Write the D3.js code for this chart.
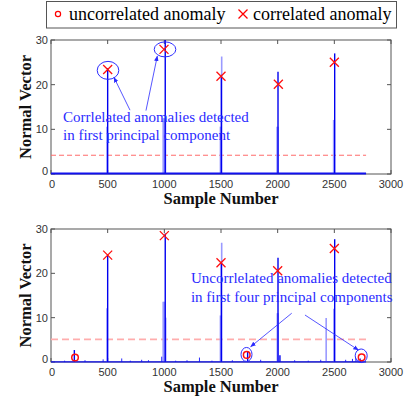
<!DOCTYPE html>
<html>
<head>
<meta charset="utf-8">
<script src="https://cdn.jsdelivr.net/npm/d3@7"></script>
<style>
  html, body { margin: 0; padding: 0; background: #fff; }
  svg { display: block; }
</style>
</head>
<body>
<svg id="chart" width="408" height="400"></svg>
<script>
// ---- axes ticks ----
const xTicks = [0, 500, 1000, 1500, 2000, 2500, 3000];
const yTicks = [0, 10, 20, 30];

// ---- first principal component (top panel) ----
const pc1BaseSample = [0, 2780];
const pc1BaseValue = [0.1, 0.1];
const pc1DarkSample = [500, 1008, 1503, 2003, 2503];
const pc1DarkValue = [23.7, 30, 22.2, 22.9, 27.0];
const pc1LightSample = [494, 990, 1000, 1010, 1495, 1506, 1995, 2003, 2494, 2500];
const pc1LightValue = [10.6, 12.5, 12.5, 12.0, 10.6, 26.3, 10.6, 10.6, 12.1, 12.1];
const pc1Threshold = 4.2;
const pc1CorrSample = [500, 997, 1500, 2006, 2500];
const pc1CorrValue = [23.4, 27.9, 21.9, 20.1, 25.0];

// ---- first four principal components (bottom panel) ----
const pc4BaseSample = [0, 2780];
const pc4BaseValue = [0.05, 0.05];
const pc4DarkSample = [206, 500, 1008, 1503, 1735, 2003, 2020, 2503];
const pc4DarkValue = [2.7, 24.1, 29.0, 22.4, 2.3, 23.5, 1.5, 27.7];
const pc4LightSample = [494, 990, 1000, 1012, 1495, 1506, 1997, 2003, 2428, 2496];
const pc4LightValue = [12.1, 13.6, 13.6, 10.0, 10.5, 26.9, 11.0, 11.0, 9.9, 12.0];
const pc4NoiseSample = [120, 300, 460, 624, 700, 800, 860, 977, 1100, 1200, 1310, 1420, 1600, 1850, 2150, 2270, 2380, 2600, 2660, 2690, 2710, 2730];
const pc4NoiseValue = [0.3, 0.4, 0.6, 0.8, 0.3, 0.5, 0.4, 1.2, 0.3, 0.4, 1.0, 0.3, 0.4, 0.5, 0.4, 0.3, 0.5, 0.5, 0.7, 0.9, 0.6, 0.8];
const pc4Threshold = 5.1;
const pc4CorrSample = [500, 1000, 1500, 2000, 2500];
const pc4CorrValue = [24.1, 28.5, 22.4, 20.6, 25.6];
const pc4UncorrSample = [212, 1727, 2741];
const pc4UncorrValue = [1.0, 1.6, 1.05];

const svg = d3.select("#chart");
const serif = "'Liberation Serif', 'Times New Roman', serif";
const sans = "'Liberation Sans', Arial, sans-serif";
const axisColor = "#555";
const annColor = "#2b2bff";

// arrowhead marker
svg.append("defs").append("marker")
  .attr("id", "arrow").attr("viewBox", "0 0 10 10")
  .attr("refX", 9).attr("refY", 5)
  .attr("markerWidth", 7).attr("markerHeight", 7)
  .attr("orient", "auto-start-reverse")
  .append("path").attr("d", "M0,1 L10,5 L0,9 Z").attr("fill", annColor);

// ---- legend ----
const legend = svg.append("g");
legend.append("rect").attr("x", 46.5).attr("y", 1.5).attr("width", 350).attr("height", 26.5)
  .attr("fill", "#fff").attr("stroke", axisColor).attr("stroke-width", 1);
legend.append("circle").attr("cx", 58).attr("cy", 14).attr("r", 2.6)
  .attr("fill", "none").attr("stroke", "#ff0000").attr("stroke-width", 1.2);
legend.append("text").attr("x", 69).attr("y", 20).text("uncorrelated anomaly")
  .attr("font-family", serif).attr("font-size", 18).attr("fill", "#000");
legend.append("path").attr("d", "M238.5,9.5 L247.5,18.5 M247.5,9.5 L238.5,18.5")
  .attr("stroke", "#ff0000").attr("stroke-width", 1.3);
legend.append("text").attr("x", 253).attr("y", 20).text("correlated anomaly")
  .attr("font-family", serif).attr("font-size", 18).attr("fill", "#000");

function drawPanel(cfg) {
  const x = d3.scaleLinear().domain([0, 3000]).range([51, 391]);
  const y = d3.scaleLinear().domain([0, 30]).range([cfg.bottom, cfg.top]);
  const g = svg.append("g");

  // axis box
  g.append("rect").attr("x", x(0)).attr("y", y(30)).attr("width", x(3000) - x(0)).attr("height", y(0) - y(30))
    .attr("fill", "none").attr("stroke", axisColor).attr("stroke-width", 1);

  // ticks (inside, mirrored on both sides)
  const tl = 4;
  xTicks.forEach(t => {
    g.append("line").attr("x1", x(t)).attr("x2", x(t)).attr("y1", y(0)).attr("y2", y(0) - tl).attr("stroke", axisColor);
    g.append("line").attr("x1", x(t)).attr("x2", x(t)).attr("y1", y(30)).attr("y2", y(30) + tl).attr("stroke", axisColor);
    g.append("text").attr("x", x(t) + (t === 0 ? 1 : 0)).attr("y", y(0) + 14).attr("text-anchor", "middle")
      .attr("font-family", sans).attr("font-size", 11).attr("fill", "#333").text(t);
  });
  yTicks.forEach(t => {
    g.append("line").attr("x1", x(0)).attr("x2", x(0) + tl).attr("y1", y(t)).attr("y2", y(t)).attr("stroke", axisColor);
    g.append("line").attr("x1", x(3000)).attr("x2", x(3000) - tl).attr("y1", y(t)).attr("y2", y(t)).attr("stroke", axisColor);
    g.append("text").attr("x", 48).attr("y", y(t) + (t === 0 ? 1 : 4)).attr("text-anchor", "end")
      .attr("font-family", sans).attr("font-size", 11).attr("fill", "#333").text(t);
  });

  // axis titles
  g.append("text").attr("x", (x(0) + x(3000)) / 2).attr("y", y(0) + 30).attr("text-anchor", "middle")
    .attr("font-family", serif).attr("font-weight", "bold").attr("font-size", 16.5).attr("fill", "#111")
    .text("Sample Number");
  g.append("text").attr("transform", `translate(31,${(y(0) + y(30)) / 2}) rotate(-90)`).attr("text-anchor", "middle")
    .attr("font-family", serif).attr("font-weight", "bold").attr("font-size", 16.5).attr("fill", "#111")
    .text("Normal Vector");

  const plot = g.append("g");

  // threshold
  plot.append("line").attr("x1", x(0)).attr("x2", x(2780)).attr("y1", y(cfg.threshold)).attr("y2", y(cfg.threshold))
    .attr("stroke", cfg.thrColor).attr("stroke-width", cfg.thrWidth).attr("stroke-dasharray", cfg.thrDash);

  // pale trace
  cfg.lightS.forEach((s, i) => {
    plot.append("line").attr("x1", x(s)).attr("x2", x(s)).attr("y1", y(0)).attr("y2", y(cfg.lightV[i]))
      .attr("stroke", "#9a9aff").attr("stroke-width", 1.6);
  });
  // noise
  (cfg.noiseS || []).forEach((s, i) => {
    plot.append("line").attr("x1", x(s)).attr("x2", x(s)).attr("y1", y(0)).attr("y2", y(cfg.noiseV[i]))
      .attr("stroke", "#2a2aff").attr("stroke-width", 1);
  });
  // dark trace spikes
  cfg.darkS.forEach((s, i) => {
    plot.append("line").attr("x1", x(s)).attr("x2", x(s)).attr("y1", y(0)).attr("y2", y(cfg.darkV[i]))
      .attr("stroke", "#0000f0").attr("stroke-width", 1.4);
  });
  // baseline of the trace
  const line = d3.line().x(d => x(d[0])).y(d => y(d[1]));
  plot.append("path").attr("d", line(cfg.baseS.map((s, i) => [s, cfg.baseV[i]])))
    .attr("fill", "none").attr("stroke", "#1010ee").attr("stroke-width", cfg.baseWidth);

  // correlated anomalies (x markers)
  cfg.corrS.forEach((s, i) => {
    const cx = x(s), cy = y(cfg.corrV[i]), h = 4.5;
    plot.append("path").attr("d", `M${cx - h},${cy - h} L${cx + h},${cy + h} M${cx + h},${cy - h} L${cx - h},${cy + h}`)
      .attr("stroke", "#ff1010").attr("stroke-width", 1.3);
  });
  // uncorrelated anomalies (circle markers)
  (cfg.uncS || []).forEach((s, i) => {
    plot.append("circle").attr("cx", x(s)).attr("cy", y(cfg.uncV[i])).attr("r", 3.3)
      .attr("fill", "none").attr("stroke", "#ff1010").attr("stroke-width", 1.5);
  });

  // annotations
  const ann = g.append("g");
  cfg.ellipses.forEach(e => {
    ann.append("ellipse").attr("cx", x(e.s)).attr("cy", y(e.v)).attr("rx", e.rx).attr("ry", e.ry)
      .attr("fill", "none").attr("stroke", annColor).attr("stroke-width", 1);
  });
  cfg.arrows.forEach(a => {
    ann.append("line").attr("x1", x(a[0])).attr("y1", y(a[1])).attr("x2", x(a[2])).attr("y2", y(a[3]))
      .attr("stroke", annColor).attr("stroke-width", 0.8).attr("marker-end", "url(#arrow)");
  });
  cfg.notes.forEach(n => {
    ann.append("text").attr("x", x(n.s)).attr("y", y(n.v)).text(n.text)
      .attr("font-family", serif).attr("font-size", 15).attr("fill", annColor);
  });
}

drawPanel({
  top: 40, bottom: 174,
  threshold: pc1Threshold, thrColor: "#ff6a6a", thrWidth: 1, thrDash: "5,3",
  baseS: pc1BaseSample, baseV: pc1BaseValue, baseWidth: 2,
  darkS: pc1DarkSample, darkV: pc1DarkValue,
  lightS: pc1LightSample, lightV: pc1LightValue,
  corrS: pc1CorrSample, corrV: pc1CorrValue,
  ellipses: [{ s: 503, v: 23.2, rx: 10.8, ry: 9 }, { s: 1006, v: 27.9, rx: 10.8, ry: 7.5 }],
  arrows: [[697, 14.3, 556, 21.6], [838, 14.2, 938, 26.4]],
  notes: [
    { s: 106, v: 11.7, text: "Corrlelated anomalies detected" },
    { s: 106, v: 7.6, text: "in first principal component" }
  ]
});

drawPanel({
  top: 229, bottom: 362,
  threshold: pc4Threshold, thrColor: "#ffadad", thrWidth: 1.8, thrDash: "7,4",
  baseS: pc4BaseSample, baseV: pc4BaseValue, baseWidth: 1.3,
  darkS: pc4DarkSample, darkV: pc4DarkValue,
  lightS: pc4LightSample, lightV: pc4LightValue,
  noiseS: pc4NoiseSample, noiseV: pc4NoiseValue,
  corrS: pc4CorrSample, corrV: pc4CorrValue,
  uncS: pc4UncorrSample, uncV: pc4UncorrValue,
  ellipses: [{ s: 1725, v: 1.7, rx: 5.5, ry: 7 }, { s: 2737, v: 1.4, rx: 6, ry: 6.8 }],
  arrows: [[2124, 11, 1762, 3.45], [2241, 10.6, 2712, 2.7]],
  notes: [
    { s: 1235, v: 17.8, text: "Uncorrlelated anomalies detected" },
    { s: 1235, v: 13.6, text: "in first four principal components" }
  ]
});
</script>
</body>
</html>
